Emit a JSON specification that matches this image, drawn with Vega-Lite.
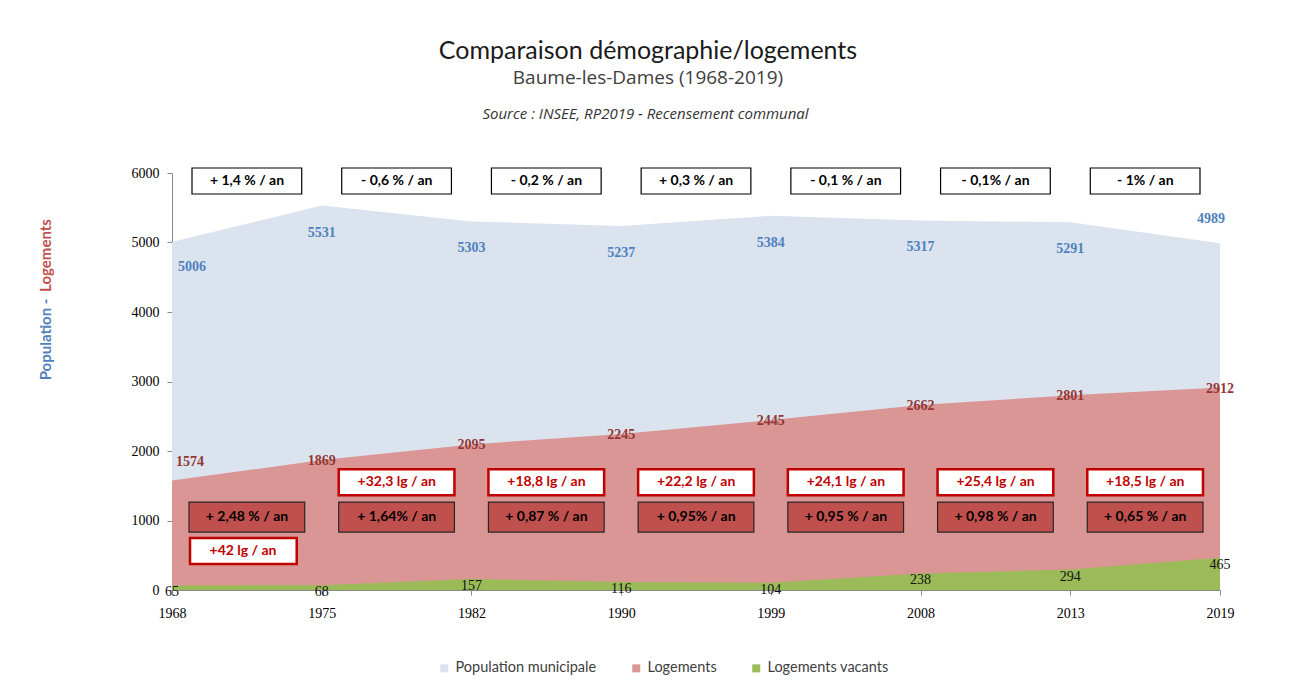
{
  "$schema": "https://vega.github.io/schema/vega-lite/v6.json",
  "width": 1048,
  "height": 417,
  "autosize": {"type": "none"},
  "padding": {"left": 172, "top": 173, "right": 77, "bottom": 97},
  "background": "white",
  "title": {
    "text": "Comparaison démographie/logements",
    "subtitle": "Baume-les-Dames  (1968-2019)",
    "frame": "group",
    "anchor": "middle",
    "dx": -48,
    "offset": 18,
    "font": "Lato",
    "fontSize": 25,
    "fontWeight": "normal",
    "color": "#1a1a1a",
    "subtitleFont": "Open Sans",
    "subtitleFontSize": 19,
    "subtitleColor": "#404040",
    "subtitlePadding": 5
  },
  "datasets": {
    "serie": [
      {"annee": "1968", "population": 5006, "logements": 1574, "vacants": 65},
      {"annee": "1975", "population": 5531, "logements": 1869, "vacants": 68},
      {"annee": "1982", "population": 5303, "logements": 2095, "vacants": 157},
      {"annee": "1990", "population": 5237, "logements": 2245, "vacants": 116},
      {"annee": "1999", "population": 5384, "logements": 2445, "vacants": 104},
      {"annee": "2008", "population": 5317, "logements": 2662, "vacants": 238},
      {"annee": "2013", "population": 5291, "logements": 2801, "vacants": 294},
      {"annee": "2019", "population": 4989, "logements": 2912, "vacants": 465}
    ],
    "taux": [
      {"debut": "1968", "fin": "1975", "pop": "+ 1,4 % / an", "lg": "+42 lg / an", "pct": "+ 2,48 % / an"},
      {"debut": "1975", "fin": "1982", "pop": "- 0,6 % / an", "lg": "+32,3 lg / an", "pct": "+ 1,64% / an"},
      {"debut": "1982", "fin": "1990", "pop": "- 0,2 % / an", "lg": "+18,8 lg / an", "pct": "+ 0,87 % / an"},
      {"debut": "1990", "fin": "1999", "pop": "+ 0,3 % / an", "lg": "+22,2 lg / an", "pct": "+ 0,95% / an"},
      {"debut": "1999", "fin": "2008", "pop": "- 0,1 % / an", "lg": "+24,1 lg / an", "pct": "+ 0,95 % / an"},
      {"debut": "2008", "fin": "2013", "pop": "- 0,1% / an", "lg": "+25,4 lg / an", "pct": "+ 0,98 % / an"},
      {"debut": "2013", "fin": "2019", "pop": "- 1% / an", "lg": "+18,5 lg / an", "pct": "+ 0,65 % / an"}
    ]
  },
  "layer": [
    {
      "data": {"name": "serie"},
      "mark": {"type": "area", "opacity": 1},
      "encoding": {
        "x": {
          "field": "annee", "type": "ordinal",
          "scale": {"type": "point", "padding": 0},
          "axis": {
            "orient": "bottom", "title": null, "labelAngle": 0,
            "labelFont": "Liberation Serif", "labelFontSize": 14, "labelColor": "#000",
            "labelPadding": 11, "tickSize": 5, "tickColor": "#888", "domainColor": "#888", "grid": false
          }
        },
        "y": {
          "field": "population", "type": "quantitative",
          "scale": {"domain": [0, 6000], "nice": false},
          "axis": {
            "orient": "left", "values": [0, 1000, 2000, 3000, 4000, 5000, 6000], "format": "d",
            "labelFont": "Liberation Serif", "labelFontSize": 14, "labelColor": "#000",
            "labelPadding": 8, "tickSize": 5, "tickColor": "#888", "domainColor": "#888", "grid": false,
            "title": "Population -", "titleFont": "Lato", "titleFontSize": 15, "titleFontWeight": "bold",
            "titleColor": "#4f81bd", "titleX": -119, "titleY": 166
          }
        },
        "color": {
          "datum": "Population municipale",
          "scale": {
            "domain": ["Population municipale", "Logements", "Logements vacants"],
            "range": ["#dbe3ef", "#d99694", "#9bbb59"]
          },
          "legend": {
            "orient": "none", "legendX": 265, "legendY": 488, "direction": "horizontal", "title": null,
            "symbolType": "square", "symbolSize": 64, "symbolStrokeWidth": 0,
            "labelFont": "Lato", "labelFontSize": 14.5, "labelColor": "#404040", "columnPadding": 32
          }
        }
      }
    },
    {
      "data": {"name": "serie"},
      "mark": {"type": "area", "opacity": 1},
      "encoding": {
        "x": {
          "field": "annee", "type": "ordinal",
          "axis": {
            "orient": "top", "labels": false, "ticks": false, "domain": false, "grid": false,
            "title": "Source : INSEE, RP2019 - Recensement communal",
            "titleFont": "Open Sans", "titleFontSize": 15, "titleFontStyle": "italic", "titleFontWeight": "normal",
            "titleColor": "#333", "titleX": 473, "titlePadding": 52
          }
        },
        "y": {
          "field": "logements", "type": "quantitative",
          "axis": {
            "orient": "left", "labels": false, "ticks": false, "domain": false, "grid": false,
            "title": "Logements", "titleFont": "Lato", "titleFontSize": 15, "titleFontWeight": "bold",
            "titleColor": "#c0504d", "titleX": -119, "titleY": 82
          }
        },
        "color": {"datum": "Logements"}
      }
    },
    {
      "data": {"name": "serie"},
      "mark": {"type": "area", "opacity": 1},
      "encoding": {
        "x": {"field": "annee", "type": "ordinal", "axis": null},
        "y": {"field": "vacants", "type": "quantitative", "axis": null},
        "color": {"datum": "Logements vacants"}
      }
    },
    {
      "data": {"name": "serie"},
      "transform": [{"filter": "datum.annee != '1968' && datum.annee != '2019'"}],
      "mark": {"type": "text", "font": "Liberation Serif", "fontWeight": "bold", "fontSize": 14, "color": "#4f81bd", "dy": 27},
      "encoding": {
        "x": {"field": "annee", "type": "ordinal", "axis": null},
        "y": {"field": "population", "type": "quantitative", "axis": null},
        "text": {"field": "population"}
      }
    },
    {
      "data": {"name": "serie"},
      "transform": [{"filter": "datum.annee == '1968'"}],
      "mark": {"type": "text", "font": "Liberation Serif", "fontWeight": "bold", "fontSize": 14, "color": "#4f81bd", "dy": 25, "align": "left", "dx": 6},
      "encoding": {
        "x": {"field": "annee", "type": "ordinal", "axis": null},
        "y": {"field": "population", "type": "quantitative", "axis": null},
        "text": {"field": "population"}
      }
    },
    {
      "data": {"name": "serie"},
      "transform": [{"filter": "datum.annee == '2019'"}],
      "mark": {"type": "text", "font": "Liberation Serif", "fontWeight": "bold", "fontSize": 14, "color": "#4f81bd", "dy": -24, "align": "right", "dx": 5},
      "encoding": {
        "x": {"field": "annee", "type": "ordinal", "axis": null},
        "y": {"field": "population", "type": "quantitative", "axis": null},
        "text": {"field": "population"}
      }
    },
    {
      "data": {"name": "serie"},
      "transform": [{"filter": "datum.annee != '1968'"}],
      "mark": {"type": "text", "font": "Liberation Serif", "fontWeight": "bold", "fontSize": 14, "color": "#953735", "dy": 1},
      "encoding": {
        "x": {"field": "annee", "type": "ordinal", "axis": null},
        "y": {"field": "logements", "type": "quantitative", "axis": null},
        "text": {"field": "logements"}
      }
    },
    {
      "data": {"name": "serie"},
      "transform": [{"filter": "datum.annee == '1968'"}],
      "mark": {"type": "text", "font": "Liberation Serif", "fontWeight": "bold", "fontSize": 14, "color": "#953735", "dy": -19, "align": "left", "dx": 4},
      "encoding": {
        "x": {"field": "annee", "type": "ordinal", "axis": null},
        "y": {"field": "logements", "type": "quantitative", "axis": null},
        "text": {"field": "logements"}
      }
    },
    {
      "data": {"name": "serie"},
      "mark": {"type": "text", "font": "Liberation Serif", "fontSize": 14, "color": "#111", "dy": 7},
      "encoding": {
        "x": {"field": "annee", "type": "ordinal", "axis": null},
        "y": {"field": "vacants", "type": "quantitative", "axis": null},
        "text": {"field": "vacants"}
      }
    },
    {
      "data": {"name": "taux"},
      "mark": {"type": "rect", "fill": "white", "stroke": "#000", "strokeWidth": 1.2, "xOffset": 20, "x2Offset": -20, "yOffset": -13, "y2Offset": 13},
      "encoding": {
        "x": {"field": "debut", "type": "ordinal", "axis": null},
        "x2": {"field": "fin"},
        "y": {"datum": 5885, "type": "quantitative", "axis": null},
        "y2": {"datum": 5885}
      }
    },
    {
      "data": {"name": "taux"},
      "mark": {"type": "text", "font": "Lato", "fontWeight": "bold", "fontSize": 14, "color": "#000", "dx": 75},
      "encoding": {
        "x": {"field": "debut", "type": "ordinal", "axis": null},
        "y": {"datum": 5885, "type": "quantitative", "axis": null},
        "text": {"field": "pop"}
      }
    },
    {
      "data": {"name": "taux"},
      "mark": {"type": "rect", "fill": "#c0504d", "stroke": "#262626", "strokeWidth": 1.2, "xOffset": 17, "x2Offset": -17, "yOffset": -15, "y2Offset": 15},
      "encoding": {
        "x": {"field": "debut", "type": "ordinal", "axis": null},
        "x2": {"field": "fin"},
        "y": {"datum": 1050, "type": "quantitative", "axis": null},
        "y2": {"datum": 1050}
      }
    },
    {
      "data": {"name": "taux"},
      "mark": {"type": "text", "font": "Lato", "fontWeight": "bold", "fontSize": 14, "color": "#000", "dx": 75},
      "encoding": {
        "x": {"field": "debut", "type": "ordinal", "axis": null},
        "y": {"datum": 1050, "type": "quantitative", "axis": null},
        "text": {"field": "pct"}
      }
    },
    {
      "data": {"name": "taux"},
      "transform": [{"filter": "datum.debut != '1968'"}],
      "mark": {"type": "rect", "fill": "white", "stroke": "#c00000", "strokeWidth": 2.5, "xOffset": 17, "x2Offset": -17, "yOffset": -13, "y2Offset": 13},
      "encoding": {
        "x": {"field": "debut", "type": "ordinal", "axis": null},
        "x2": {"field": "fin"},
        "y": {"datum": 1550, "type": "quantitative", "axis": null},
        "y2": {"datum": 1550}
      }
    },
    {
      "data": {"name": "taux"},
      "transform": [{"filter": "datum.debut != '1968'"}],
      "mark": {"type": "text", "font": "Lato", "fontWeight": "bold", "fontSize": 14, "color": "#c00000", "dx": 75},
      "encoding": {
        "x": {"field": "debut", "type": "ordinal", "axis": null},
        "y": {"datum": 1550, "type": "quantitative", "axis": null},
        "text": {"field": "lg"}
      }
    },
    {
      "data": {"name": "taux"},
      "transform": [{"filter": "datum.debut == '1968'"}],
      "mark": {"type": "rect", "fill": "white", "stroke": "#c00000", "strokeWidth": 2.5, "xOffset": 18, "x2Offset": -25, "yOffset": -13, "y2Offset": 13},
      "encoding": {
        "x": {"field": "debut", "type": "ordinal", "axis": null},
        "x2": {"field": "fin"},
        "y": {"datum": 560, "type": "quantitative", "axis": null},
        "y2": {"datum": 560}
      }
    },
    {
      "data": {"name": "taux"},
      "transform": [{"filter": "datum.debut == '1968'"}],
      "mark": {"type": "text", "font": "Lato", "fontWeight": "bold", "fontSize": 14, "color": "#c00000", "dx": 71},
      "encoding": {
        "x": {"field": "debut", "type": "ordinal", "axis": null},
        "y": {"datum": 560, "type": "quantitative", "axis": null},
        "text": {"field": "lg"}
      }
    }
  ],
  "resolve": {"axis": {"x": "independent", "y": "independent"}},
  "config": {
    "view": {"stroke": null},
    "text": {"baseline": "middle"}
  }
}
